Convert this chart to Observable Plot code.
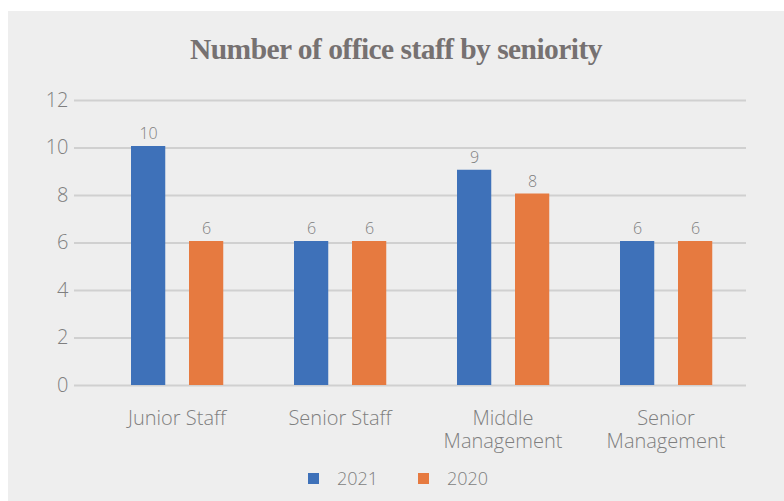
<!DOCTYPE html>
<html>
<head>
<meta charset="utf-8">
<script src="https://cdn.jsdelivr.net/npm/d3@7"></script>
<script src="https://cdn.jsdelivr.net/npm/@observablehq/plot@0.6"></script>
<style>
  html, body { margin: 0; padding: 0; background: #ffffff; width: 784px; height: 501px; overflow: hidden; }
  #panel { position: absolute; left: 8px; top: 11px; width: 776px; height: 490px; background: #eeeeee; }
  #title { position: absolute; left: 8px; width: 776px; top: 33px; text-align: center;
    font-family: "Liberation Serif", serif; font-weight: bold; font-size: 29.5px; color: #767171; letter-spacing: -0.55px; }
  #chart { position: absolute; left: 0; top: 80px; }
  #legend { position: absolute; top: 466px; left: 0; width: 784px; height: 24px;
    font-family: "Open Sans", sans-serif; font-weight: 300; font-size: 18px; color: #7f7f7f; }
  .item { position: absolute; top: 0; display: flex; align-items: center; height: 24px; }
  .sw { width: 11px; height: 11px; display: inline-block; margin-right: 18px; }
</style>
</head>
<body>
<div id="panel"></div>
<div id="title">Number of office staff by seniority</div>
<div id="chart"></div>
<div id="legend"></div>
<script>
const categories = ["Junior Staff", "Senior Staff", "Middle Management", "Senior Management"];
const categoryLabels = ["Junior Staff", "Senior Staff", "Middle\nManagement", "Senior\nManagement"];
const series = ["2021", "2020"];
const values2021 = [10, 6, 9, 6];
const values2020 = [6, 6, 8, 6];
const yTicks = [0, 2, 4, 6, 8, 10, 12];
const colors = ["#3e71b9", "#e67a40"];

const d2021 = categories.map((c, i) => ({category: c, value: values2021[i]}));
const d2020 = categories.map((c, i) => ({category: c, value: values2020[i]}));
const labelData = categories.map((c, i) => ({category: c, label: categoryLabels[i]}));

const font = '"Open Sans", sans-serif';
const grey = "#7f7f7f";

const plot = Plot.plot({
  width: 784,
  height: 380,
  marginLeft: 74,
  marginRight: 38,
  marginTop: 20,
  marginBottom: 75,
  style: {background: "transparent", fontFamily: font, overflow: "visible"},
  x: {type: "band", domain: categories, range: [94.5, 747.5], padding: 0, axis: null},
  y: {domain: [0, 12], axis: null},
  marks: [
    Plot.ruleY(yTicks, {stroke: "#d0d0d0", strokeWidth: 2}),
    Plot.axisY(yTicks, {tickSize: 0, tickPadding: 6, fontSize: 20, fill: grey, fontWeight: 300, label: null}),
    Plot.barY(d2021, {x: "category", y: "value", fill: colors[0], insetLeft: 36, insetRight: 92.75, insetTop: -1.5}),
    Plot.barY(d2020, {x: "category", y: "value", fill: colors[1], insetLeft: 94, insetRight: 34.75, insetTop: -1.5}),
    Plot.text(d2021, {x: "category", y: "value", text: d => String(d.value), dx: -28.5, dy: -9, lineAnchor: "bottom", fill: grey, fontSize: 16, fontWeight: 300}),
    Plot.text(d2020, {x: "category", y: "value", text: d => String(d.value), dx: 29.5, dy: -9, lineAnchor: "bottom", fill: grey, fontSize: 16, fontWeight: 300}),
    Plot.text(labelData, {x: "category", text: "label", frameAnchor: "bottom", lineAnchor: "top", dy: 24, lineHeight: 1.12, fill: grey, fontSize: 20, fontWeight: 300, letterSpacing: 0.35})
  ]
});
document.getElementById("chart").appendChild(plot);

const legend = document.getElementById("legend");
const lx = [308, 418];
series.forEach((s, i) => {
  const it = document.createElement("div");
  it.className = "item";
  it.style.left = lx[i] + "px";
  it.innerHTML = `<span class="sw" style="background:${colors[i]}"></span><span>${s}</span>`;
  legend.appendChild(it);
});
</script>
</body>
</html>
